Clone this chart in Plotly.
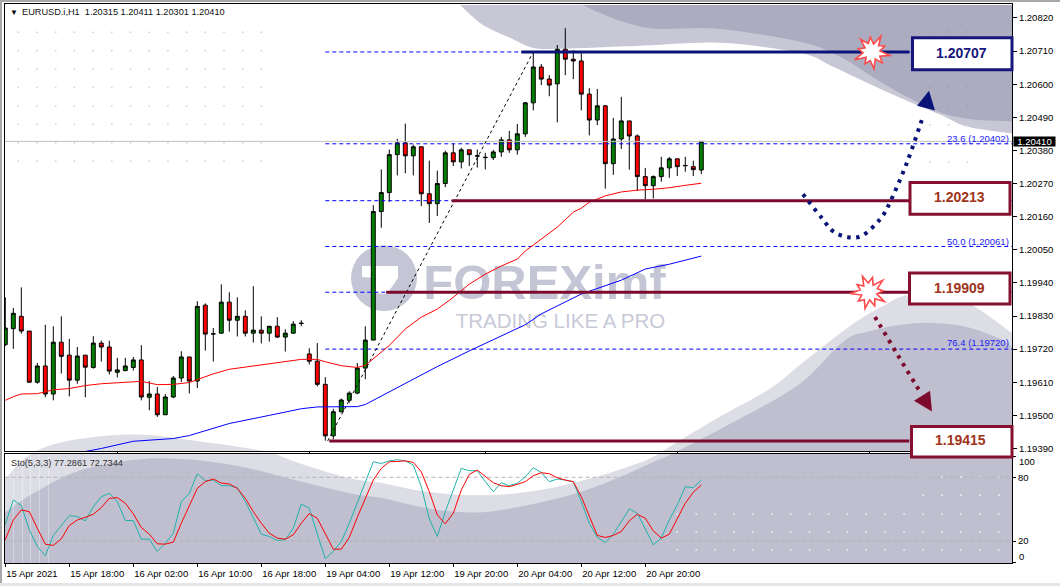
import math
import plotly.graph_objects as go

W, H = 1060, 588

# ---- data (prices in 1e-5 units) ----
opens = [119735,119788,119829,119780,119610,119664,119571,119743,119700,119617,119700,119659,119740,119727,119643,119649,119659,119684,119560,119571,119502,119561,119624,119694,119614,119866,119770,119773,119876,119816,119829,119773,119783,119773,119796,119760,119773,119805,119704,119680,119603,119432,119512,119550,119574,119657,119750,120177,120240,120366,120405,120362,120392,120236,120203,120270,120372,120342,120382,120361,120356,120356,120375,120415,120382,120435,120538,120657,120617,120601,120716,120683,120677,120567,120481,120528,120336,120418,120478,120428,120293,120263,120293,120322,120352,120329,120326,120315]
highs = [119892,119857,119925,119780,119674,119801,119796,119829,119754,119727,119700,119763,119748,119748,119691,119691,119694,119733,119614,119594,119571,119631,119713,119694,119879,119872,119790,119935,119909,119892,119849,119929,119829,119796,119826,119786,119813,119816,119723,119740,119627,119522,119556,119580,119674,119796,120198,120317,120383,120419,120469,120399,120392,120346,120313,120379,120402,120389,120382,120383,120372,120382,120425,120445,120468,120541,120703,120667,120630,120730,120786,120713,120703,120587,120584,120531,120488,120558,120478,120433,120322,120297,120359,120358,120352,120359,120346,120411]
lows = [119730,119721,119771,119610,119605,119560,119550,119639,119563,119605,119560,119655,119679,119636,119626,119646,119649,119550,119517,119495,119502,119557,119611,119573,119591,119715,119679,119771,119778,119762,119762,119742,119739,119745,119757,119712,119771,119796,119669,119596,119416,119421,119510,119542,119570,119620,119750,120123,120209,120297,120304,120297,120195,120139,120162,120258,120328,120320,120328,120323,120317,120348,120359,120372,120366,120425,120513,120597,120560,120473,120630,120617,120513,120430,120464,120253,120299,120385,120316,120245,120217,120220,120276,120289,120295,120309,120295,120301]
closes = [119790,119839,119780,119610,119664,119571,119743,119696,119617,119697,119660,119740,119727,119647,119651,119664,119684,119561,119571,119502,119561,119624,119694,119614,119862,119770,119771,119876,119816,119829,119773,119783,119773,119796,119760,119773,119803,119806,119680,119603,119432,119512,119551,119574,119657,119750,120177,120240,120366,120405,120362,120392,120236,120203,120270,120372,120342,120382,120366,120362,120357,120375,120415,120382,120435,120538,120657,120617,120597,120716,120683,120677,120567,120481,120528,120336,120418,120478,120428,120293,120263,120293,120322,120352,120326,120330,120316,120410]

ma_red_idx = [0,1,2,4,5,6,8,10,12,15,17,19,21,23,24,26,28,31,34,37,39,40,42,44,45,46,48,50,52,54,56,58,60,62,64,65,67,69,71,72,73,75,77,79,81,83,85,87]
ma_red = [119550,119562,119571,119572,119578,119585,119589,119599,119605,119609,119613,119602,119603,119609,119618,119638,119653,119664,119675,119686,119686,119678,119665,119659,119666,119688,119732,119787,119826,119853,119892,119936,119969,119996,120019,120046,120087,120125,120175,120188,120208,120229,120242,120248,120251,120256,120264,120271]
ma_blue_idx = [10,12,16,21,23,26,28,33,37,39,44,45,47,51,54,58,62,65,67,72,77,80,83,87]
ma_blue = [119380,119390,119414,119423,119433,119456,119473,119500,119522,119528,119529,119536,119564,119622,119662,119714,119764,119801,119837,119903,119949,119986,120002,120029]

sto_k = [35.9,58.7,53.4,30.6,15.0,6.2,25.2,34.6,44.0,43.1,39.0,52.4,61.8,64.9,57.1,39.3,39.3,21.8,21.8,10.3,18.1,27.4,57.1,64.9,83.4,76.8,77.4,72.1,72.1,70.2,57.1,42.1,26.5,24.3,20.6,21.2,32.1,54.9,50.9,26.5,3.4,10.3,19.6,36.8,56.5,75.9,94.6,93.0,95.5,96.5,95.5,91.5,71.2,40.9,24.3,47.7,68.0,88.4,86.2,86.2,75.9,66.5,74.9,72.1,74.3,80.5,89.0,84.6,75.9,78.4,77.4,75.9,57.1,36.8,23.4,18.7,26.5,37.8,50.2,46.2,32.1,16.5,22.8,39.9,54.0,71.2,70.2,77.29]
sto_d = [21.2,39.9,49.3,47.7,32.1,17.1,15.9,22.1,34.6,39.9,42.4,45.2,51.5,60.2,60.9,55.6,45.6,32.8,26.5,17.4,17.1,19.0,36.8,52.4,69.6,75.9,78.4,74.6,73.7,69.6,60.2,47.7,36.8,27.4,22.8,21.8,25.9,36.8,45.9,41.5,27.4,12.4,12.4,23.4,42.4,60.2,77.4,88.4,94.6,94.9,95.5,94.0,85.2,66.5,44.6,36.2,46.2,68.0,82.7,86.8,80.5,74.9,72.1,71.2,73.4,75.9,81.5,84.3,83.4,79.6,77.4,75.9,61.8,43.1,25.3,23.4,25.3,29.0,39.0,45.2,41.5,29.6,22.8,26.5,41.5,55.6,65.9,72.73]

fib_levels = [1.20707,1.20402,1.20213,1.20061,1.19909,1.19720]
thick_levels = [1.20707,1.20213,1.19909,1.19415]
thick_start = [64.5,55.8,47.6,40.5]
thick_colors = ["#0A1478","#7D0A2D","#7D0A2D","#7D0A2D"]
bid = 1.20410
price_ticks = [1.20820,1.20710,1.20600,1.20490,1.20380,1.20270,1.20160,1.20050,1.19940,1.19830,1.19720,1.19610,1.19500,1.19390]
time_tick_idx = [0,8,16,24,32,40,48,56,64,72,80]
time_labels = ["15 Apr 2021","15 Apr 18:00","16 Apr 02:00","16 Apr 10:00","16 Apr 18:00","19 Apr 04:00","19 Apr 12:00","19 Apr 20:00","20 Apr 04:00","20 Apr 12:00","20 Apr 20:00"]

xs = list(range(len(opens)))
scale = lambda a: [v / 100000 for v in a]
XR = [-0.1, 125.84]
FONT = "Liberation Sans"
SMALL = 9.5

# ---- pixel helpers for decoration ----
PX = lambda x: x / W
PY = lambda y: 1 - y / H

def smooth(pts, close_bottom=None):
    p = [(PX(a), PY(b)) for a, b in pts]
    d = f"M{p[0][0]},{p[0][1]}"
    for i in range(len(p) - 1):
        p0 = p[i - 1] if i else p[i]
        p1, p2 = p[i], p[i + 1]
        p3 = p[i + 2] if i + 2 < len(p) else p[i + 1]
        c1 = (p1[0] + (p2[0] - p0[0]) / 6, p1[1] + (p2[1] - p0[1]) / 6)
        c2 = (p2[0] - (p3[0] - p1[0]) / 6, p2[1] - (p3[1] - p1[1]) / 6)
        d += f" C{c1[0]},{c1[1]} {c2[0]},{c2[1]} {p2[0]},{p2[1]}"
    if close_bottom:
        for a, b in close_bottom:
            d += f" L{PX(a)},{PY(b)}"
        d += " Z"
    return d

def poly(pts):
    return "M" + " L".join(f"{PX(a)},{PY(b)}" for a, b in pts) + " Z"

shapes = []
def path(d, fill=None, line=None, lw=0, dash=None, layer="below"):
    s = dict(type="path", path=d, xref="paper", yref="paper", layer=layer, line=dict(width=lw, color=line or "rgba(0,0,0,0)"))
    if fill:
        s["fillcolor"] = fill
    if dash:
        s["line"]["dash"] = dash
    shapes.append(s)

def rect(x0, y0, x1, y1, fill=None, line=None, lw=0, layer="below"):
    s = dict(type="rect", xref="paper", yref="paper", x0=PX(x0), x1=PX(x1), y0=PY(y0), y1=PY(y1), layer=layer, line=dict(width=lw, color=line or "rgba(0,0,0,0)"))
    if fill:
        s["fillcolor"] = fill
    shapes.append(s)

# top-right blobs
path(smooth([(460,5),(483,25),(510,38),(533,48),(560,49),(640,46),(720,43),(800,53),(833,67),(867,83),(900,98),(940,115),(967,127),(1012,134)],
            [(1012,5)]), fill="#C7C7D6")
path(smooth([(583,5),(600,13),(630,24),(660,29),(720,29),(800,42),(840,57),(877,80),(907,97),(940,113),(973,120),(1012,122)],
            [(1012,5)]), fill="#ACACC0")
# bottom blobs
path(smooth([(4,482),(30,456),(70,442),(135,436),(200,443),(265,453),(300,465),(350,480),(383,485),(417,492),(450,496),(483,497),(517,495),(550,490),(583,482),(617,472),(650,460),(667,450),(720,418),(770,390),(800,366),(850,327),(883,307),(910,296),(960,300),(1012,334)],
            [(1012,565),(4,565)]), fill="#DDDDE6")
path(smooth([(4,515),(30,497),(67,477),(100,467),(150,460),(200,462),(250,470),(300,483),(350,495),(383,500),(417,508),(450,513),(483,514),(517,509),(550,502),(583,493),(617,480),(650,465),(677,453),(740,420),(800,385),(843,343),(867,333),(900,326),(933,324),(967,328),(1000,340),(1012,348)],
            [(1012,565),(4,565)]), fill="#BFBFD0")
# white gap between the panes
rect(4, 453.5, 1013, 455.5, fill="white")
# streaks in the lower pane
for sx in (13, 22, 30, 39, 48):
    rect(sx, 456, sx + 1, 565, fill="rgba(255,255,255,0.35)")

# dot grids
def dot(x, y, c):
    rect(x, y, x + 1.6, y + 1.6, fill=c)
for row in range(8):
    for col in range(14):
        dot(17.5 + col * 18.7, 31.5 + row * 18.5, "#D2D2DE")
for row in range(8):
    for col in range(3):
        yy = 31 + row * 18.7
        dot(929 + col * 18.8, yy, "#9C9CB0" if yy < 115 else "#D4D4DE")
for ry in (515, 533, 551):
    for col in range(18):
        dot(676.5 + col * 18.9, ry, "#F2F2F6")
for ry in (478, 496):
    for col in range(5):
        dot(922.5 + col * 18.9, ry, "#F2F2F6")

# watermark logo
WM = "#C4C6D6"
shapes.append(dict(type="circle", xref="paper", yref="paper", layer="below",
                   x0=PX(351), x1=PX(417), y0=PY(312), y1=PY(246), fillcolor=WM, line=dict(width=0)))
path(poly([(362,267),(398,267),(398,279),(387,295),(373,294),(376,279),(362,278)]), fill="white")

# boxes (above lines)
def box(x0, y0, x1, y1, c):
    rect(x0, y0, x1, y1, fill="white", line=c, lw=3, layer="above")
box(912.5, 38, 1012, 70, "#16167C")
box(910, 183, 1010, 215, "#85102F")
box(909.5, 274, 1010, 305, "#85102F")
box(911.5, 428, 1012, 458.5, "#85102F")

# starbursts
def star(cx, cy, rad, rot=0.2):
    pts = []
    n = len(rad)
    for k, r in enumerate(rad):
        a = rot + 2 * math.pi * k / n
        pts.append((cx + r * math.cos(a), cy + r * math.sin(a)))
    return poly(pts)
rad1 = [18,9,15,8,17,9,14,8,19,9,14,8,17,9,15,8,18,9,14,8]
path(star(872, 52, rad1), fill="white", line="#FF4A4A", lw=1.6, layer="above")
path(star(869, 293, rad1, 0.55), fill="white", line="#FF4A4A", lw=1.6, layer="above")

# dotted arrows
path(smooth([(803,195),(822,219),(833,232),(848,238),(863,236),(880,220),(890,203),(907,163),(923,117)]),
     line="#0A1478", lw=4, dash="3.5px,5.5px", layer="above")
path(poly([(929,91),(917,106),(935,111)]), fill="#0A1478", layer="above")
path(smooth([(875,318),(897,355),(920,393)]), line="#7D0A2D", lw=4, dash="3.5px,5.5px", layer="above")
path(poly([(932,413),(914,402),(930,392)]), fill="#7D0A2D", layer="above")

# frame
rect(0, 0, 1060, 2, fill="#A8A8A8", layer="above")
rect(0, 0, 2, 588, fill="#A8A8A8", layer="above")
rect(0, 585, 1060, 588, fill="#E6E6E6", layer="above")

fig = go.Figure()

# watermark text (first, so that the chart lines pass over it)
fig.add_trace(go.Scatter(x=[67.4], y=[1.19926], mode="text", text=["<b>FOREXimf</b>"], textposition="middle center",
                         textfont=dict(family=FONT, size=49, color=WM), hoverinfo="skip", showlegend=False))
fig.add_trace(go.Scatter(x=[69.4], y=[1.19806], mode="text", text=["TRADING LIKE A PRO"], textposition="middle center",
                         textfont=dict(family=FONT, size=20.5, color="#C8CAD8"), hoverinfo="skip", showlegend=False))

fig.add_trace(go.Candlestick(
    x=xs, open=scale(opens), high=scale(highs), low=scale(lows), close=scale(closes),
    increasing=dict(fillcolor="#008000", line=dict(color="#000000", width=1)),
    decreasing=dict(fillcolor="#FF0000", line=dict(color="#000000", width=1)),
    showlegend=False, hoverinfo="skip"))

# bid line
fig.add_trace(go.Scatter(x=XR, y=[bid, bid], mode="lines", line=dict(color="#C0C0C0", width=1), showlegend=False))
# fibo
for lv in fib_levels:
    fig.add_trace(go.Scatter(x=[40, XR[1]], y=[lv, lv], mode="lines", line=dict(color="#0000FF", width=1, dash="4px,3px"), showlegend=False))
fig.add_trace(go.Scatter(x=[40.3, 66], y=[1.19415, 1.20707], mode="lines", line=dict(color="#000000", width=1, dash="3px,3px"), showlegend=False))
# moving averages
fig.add_trace(go.Scatter(x=ma_red_idx, y=scale(ma_red), mode="lines", line=dict(color="#FF0000", width=1), showlegend=False))
fig.add_trace(go.Scatter(x=ma_blue_idx, y=scale(ma_blue), mode="lines", line=dict(color="#0000FF", width=1), showlegend=False))
# thick levels
for lv, st, c in zip(thick_levels, thick_start, thick_colors):
    fig.add_trace(go.Scatter(x=[st, 113], y=[lv, lv], mode="lines", line=dict(color=c, width=3), showlegend=False))

# stochastic
for lv in (80, 20):
    fig.add_trace(go.Scatter(x=XR, y=[lv, lv], xaxis="x2", yaxis="y2", mode="lines", line=dict(color="#B4B4B4", width=1, dash="4px,3px"), showlegend=False))
fig.add_trace(go.Scatter(x=xs, y=sto_k, xaxis="x2", yaxis="y2", mode="lines", line=dict(color="#20B2AA", width=1), showlegend=False))
fig.add_trace(go.Scatter(x=xs, y=sto_d, xaxis="x2", yaxis="y2", mode="lines", line=dict(color="#FF0000", width=1), showlegend=False))

def ann(x, y, text, size=SMALL, color="#000000", anchor="left", **kw):
    return dict(xref="paper", yref="paper", x=PX(x), y=PY(y), text=text, showarrow=False, xanchor=anchor, yanchor="middle",
                font=dict(family=FONT, size=size, color=color), **kw)

anns = [
    ann(20, 12, "EURUSD.i,H1  1.20315 1.20411 1.20301 1.20410", size=9.2, color="#101010"),
    ann(8, 12.5, "▼", size=8, color="#000000"),
    ann(9, 465, "Sto(5,3,3) 77.2861 72.7344", size=9.2, color="#303030"),
    ann(1011, 138.5, "23.6 (1.20402)", size=9.5, color="#2020F0", anchor="right"),
    ann(1011, 242, "50.0 (1.20061)", size=9.5, color="#2020F0", anchor="right"),
    ann(1011, 344, "76.4 (1.19720)", size=9.5, color="#2020F0", anchor="right"),
    ann(961, 53, "<b>1.20707</b>", size=14, color="#16167C", anchor="center"),
    ann(959, 198, "<b>1.20213</b>", size=14, color="#A0341A", anchor="center"),
    ann(959, 288.5, "<b>1.19909</b>", size=14, color="#A0341A", anchor="center"),
    ann(960, 442, "<b>1.19415</b>", size=14, color="#A0341A", anchor="center"),
    ann(1017, 463, "100"),
    ann(1017, 558, "0"),
    dict(xref="paper", yref="paper", x=PX(1034), y=PY(141.5), text="1.20410", showarrow=False, xanchor="center", yanchor="middle",
         font=dict(family=FONT, size=9.5, color="#FFFFFF"), bgcolor="#000000", borderpad=0, width=41, height=9),
]

axis_common = dict(showgrid=False, zeroline=False, showline=True, linecolor="#000000", linewidth=1, mirror=True, fixedrange=True)
dom_x = [4.5 / W, 1012 / W]
fig.update_layout(
    width=W, height=H, margin=dict(l=0, r=0, t=0, b=0), paper_bgcolor="white", plot_bgcolor="rgba(0,0,0,0)",
    showlegend=False, shapes=shapes, annotations=anns,
    font=dict(family=FONT, size=SMALL, color="#000000"),
    xaxis=dict(domain=dom_x, range=XR, anchor="y", rangeslider=dict(visible=False), tickmode="array",
               tickvals=[14,38,60,84,108], ticktext=[""]*5, ticks="outside", ticklen=2, tickcolor="#000000", **axis_common),
    yaxis=dict(domain=[1 - 453 / H, 1 - 4.5 / H], range=[1.193801, 1.208647], anchor="x", side="right",
               tickmode="array", tickvals=price_ticks, ticktext=[f"{v:.5f}" for v in price_ticks],
               ticks="outside", ticklen=4, tickcolor="#000000", tickfont=dict(family=FONT, size=SMALL), **axis_common),
    xaxis2=dict(domain=dom_x, range=XR, anchor="y2", tickmode="array", tickvals=time_tick_idx, ticktext=time_labels, tickangle=0,
                ticks="outside", ticklen=3, tickcolor="#000000", ticklabelposition="outside right", ticklabelstandoff=2,
                tickfont=dict(family=FONT, size=SMALL), automargin=False, **axis_common),
    yaxis2=dict(domain=[1 - 565 / H, 1 - 456 / H], range=[-0.7, 101.5], anchor="x2", side="right",
                tickmode="array", tickvals=[100,80,20,0], ticktext=["","80","20",""],
                ticks="outside", ticklen=3, tickcolor="#000000", tickfont=dict(family=FONT, size=SMALL), **axis_common),
)

fig.write_html("out.html", config={"displayModeBar": False},
               post_script="document.body.style.margin='0';document.body.style.overflow='hidden';")
